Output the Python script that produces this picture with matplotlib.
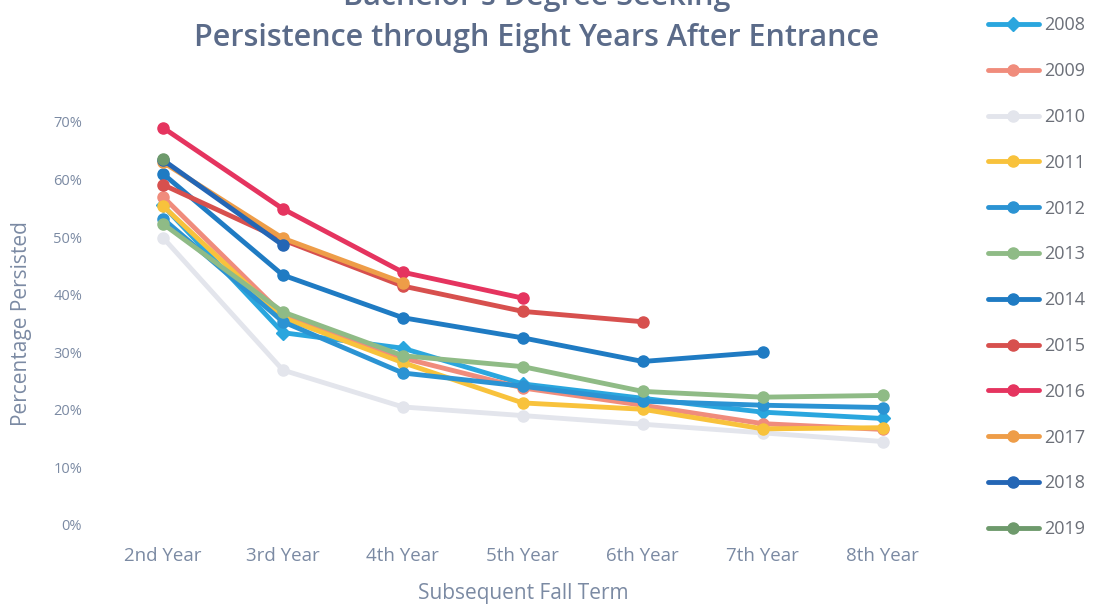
import matplotlib
matplotlib.use("Agg")
import matplotlib.pyplot as plt
from matplotlib.ticker import PercentFormatter

plt.rcParams['font.family'] = ['Open Sans', 'DejaVu Sans']

terms = ["2nd Year", "3rd Year", "4th Year", "5th Year", "6th Year", "7th Year", "8th Year"]

cohorts = ["2008", "2009", "2010", "2011", "2012", "2013",
           "2014", "2015", "2016", "2017", "2018", "2019"]

# Share of each entering cohort still enrolled, by subsequent fall term (%)
c2008 = [55.5, 33.4, 30.7, 24.5, 22.0, 19.6, 18.5]
c2009 = [57.0, 36.5, 29.0, 23.8, 20.8, 17.6, 16.6]
c2010 = [49.9, 26.9, 20.5, 19.0, 17.5, 16.0, 14.5]
c2011 = [55.4, 36.0, 28.2, 21.2, 20.1, 16.7, 16.9]
c2012 = [53.2, 35.3, 26.4, 24.1, 21.5, 20.8, 20.4]
c2013 = [52.3, 37.0, 29.4, 27.5, 23.2, 22.2, 22.5]
c2014 = [61.0, 43.4, 36.0, 32.5, 28.4, 30.0]
c2015 = [59.1, 49.5, 41.5, 37.1, 35.3]
c2016 = [69.0, 54.9, 43.9, 39.4]
c2017 = [63.0, 49.8, 42.1]
c2018 = [63.4, 48.6]
c2019 = [63.6]

series = [c2008, c2009, c2010, c2011, c2012, c2013,
          c2014, c2015, c2016, c2017, c2018, c2019]

colors = ["#2aa6de", "#f08c7c", "#e3e5ec", "#f8c23c", "#2b93d3", "#8fbb86",
          "#1f7bc3", "#d7504e", "#e5345f", "#ee9d48", "#2466b5", "#6e9a6c"]
markers = ["D", "o", "o", "o", "o", "o", "o", "o", "o", "o", "o", "o"]

text_col = "#7b8aa3"
title_col = "#5b6b89"

fig = plt.figure(figsize=(10.96, 6.07), dpi=100)
ax = fig.add_axes([0.094, 0.1351, 0.766, 0.664])

for name, vals, col, mk in zip(cohorts, series, colors, markers):
    xs = list(range(len(vals)))
    ax.plot(xs, [v / 100 for v in vals], color=col, lw=3.5,
            marker=mk, markersize=8 if mk == "o" else 7,
            markerfacecolor=col, markeredgecolor=col, label=name,
            solid_capstyle="round")

ax.set_xlim(-0.5, 6.5)
ax.set_ylim(0, 0.70)
ax.set_xticks(range(len(terms)))
ax.set_xticklabels(terms)
ax.set_yticks([i / 10 for i in range(8)])
ax.yaxis.set_major_formatter(PercentFormatter(1.0, decimals=0))
ax.tick_params(axis="both", length=0, colors=text_col)
ax.tick_params(axis="x", pad=16, labelsize=13.5)
ax.tick_params(axis="y", pad=15, labelsize=10.5)
for s in ax.spines.values():
    s.set_visible(False)

ax.set_xlabel("Subsequent Fall Term", fontsize=15, color=text_col, labelpad=13)
ax.set_ylabel("Percentage Persisted", fontsize=15, color=text_col, labelpad=15)

# Two-line heading; the upper line sits at the very top edge of the page
fig.text(0.49, 1 + 3 / 607, "Bachelor's Degree Seeking",
         ha="center", va="center", fontsize=22, color=title_col, fontweight=600)
fig.text(0.49, 1 - 38 / 607, "Persistence through Eight Years After Entrance",
         ha="center", va="center", fontsize=22, color=title_col, fontweight=600)

leg = fig.legend(loc="upper left", bbox_to_anchor=(0.895, 0.985), frameon=False,
                 fontsize=13, labelspacing=1.54, handlelength=2.8,
                 handletextpad=0.3, borderaxespad=0)
for t in leg.get_texts():
    t.set_color("#6b6f78")

fig.savefig("out.png", dpi=100)
